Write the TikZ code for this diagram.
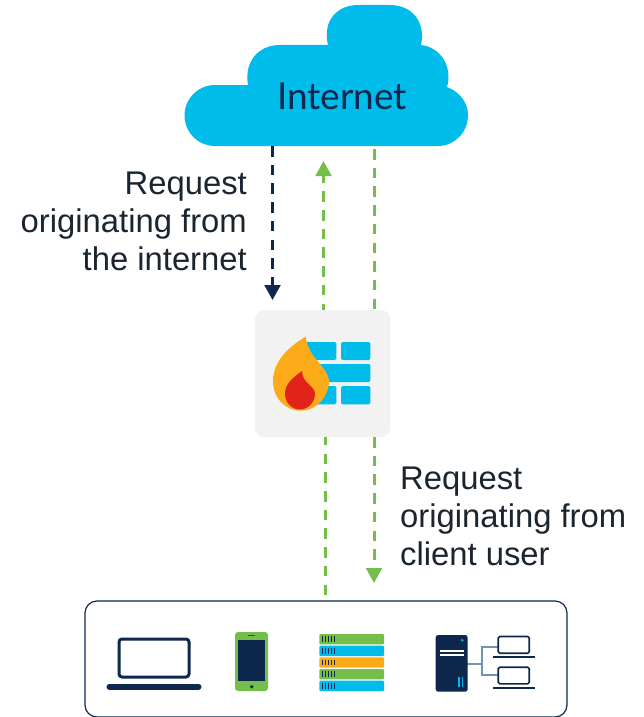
\documentclass[tikz,border=0pt]{standalone}
\usepackage{fontspec}
\setmainfont{Liberation Sans}
\newfontfamily\cloudfont{Lato}
\usetikzlibrary{arrows.meta}
\definecolor{navy}{HTML}{0D274D}
\definecolor{ink}{HTML}{1B2530}
\definecolor{sky}{HTML}{00BCEB}
\definecolor{leaf}{HTML}{74BF4B}
\definecolor{amber}{HTML}{FBAB18}
\definecolor{flame}{HTML}{E2231A}
\definecolor{steel}{HTML}{6F93BC}
\newcommand{\rackrow}[2]{%
    \fill[#1, rounded corners=1pt] (319.3, #2) rectangle (384, #2+10.3);
    \foreach \tx in {322.5, 325.5, 328.5, 331.5, 334.5}
        \draw[navy, line width=1.1pt] (\tx, #2+2.3) -- (\tx, #2+8);
}
\begin{document}
\begin{tikzpicture}
    \tikzset{x=1pt, y=-1pt, >={Triangle[length=15pt, width=15.7pt]}}
    \tikzstyle{label}=[font=\fontsize{32.8}{38}\selectfont, text=ink, inner sep=0pt]
    \tikzstyle{wall}=[rectangle, fill=black!5, rounded corners=9pt, minimum width=135pt, minimum height=127pt, inner sep=0pt]
    \tikzstyle{group}=[rectangle, draw=navy, fill=white, line width=1.2pt, rounded corners=12pt, minimum width=482pt, minimum height=116pt, inner sep=0pt]
    \tikzstyle{flow}=[leaf, line width=3pt, dash pattern=on 10.5pt off 8.2pt]
    \tikzstyle{brick}=[sky, rounded corners=1.5pt]
    \tikzstyle{dev}=[navy, line width=3pt, rounded corners=3pt]

    \useasboundingbox (0, 0) rectangle (644, 717);

    % cloud
    \fill[sky] (215, 146) arc (90:270:30.5) -- (248, 85)
        .. controls (244, 62) and (258, 45) .. (280, 45) -- (328, 45)
        .. controls (322, 20) and (338, 5) .. (358, 5) -- (390, 5)
        .. controls (412, 5) and (426, 22) .. (421, 45)
        .. controls (440, 47) and (453, 66) .. (447, 87)
        .. controls (460, 92) and (468, 103) .. (468, 115)
        .. controls (468, 133) and (454, 146) .. (438, 146) -- cycle;

    \draw (342.0, 96.0)  node[label, text=navy, font=\cloudfont\fontsize{37}{44}\selectfont] (inet) {Internet};
    \draw (322.5, 373.5) node[wall]   (fw)      {};
    \draw (326.0, 659.0) node[group]  (clients) {};
    \draw (247.0, 221.0) node[label, align=right, anchor=east] (reqin)  {Request\\originating from\\the internet};
    \draw (400.0, 516.5) node[label, align=left, anchor=west] (reqout) {Request\\originating from\\client user};

    \coordinate (in0)   at (272.5, 146);
    \coordinate (in1)   at (272.5, 300);
    \coordinate (up0)   at (323.5, 310);
    \coordinate (up1)   at (323.5, 161);
    \coordinate (ret0)  at (374, 149);
    \coordinate (ret1)  at (374, 310);
    \coordinate (cli0)  at (325.5, 595);
    \coordinate (cli1)  at (325.5, 437);
    \coordinate (out0)  at (374, 437);
    \coordinate (out1)  at (374, 583);

    \draw [->, navy, line width=3pt, dash pattern=on 10.5pt off 8.2pt] (in0) -- (in1);
    \draw [->, flow, dash phase=4pt] (up0)  -- (up1);
    \draw [flow]        (ret0) -- (ret1);
    \draw [flow]        (cli0) -- (cli1);
    \draw [->, flow]    (out0) -- (out1);

    % firewall
    \fill[brick] (300, 342) rectangle (336.3, 360);
    \fill[brick] (341, 342) rectangle (370.3, 360);
    \fill[brick] (300, 364) rectangle (370.3, 382);
    \fill[brick] (300, 386) rectangle (336.3, 404.3);
    \fill[brick] (341, 386) rectangle (370.3, 404.3);
    \fill[amber] (305.7, 336.7)
        .. controls (288, 347) and (273, 362) .. (273, 381)
        .. controls (273, 398) and (285, 410.7) .. (301, 410.7)
        .. controls (317, 410.7) and (329, 396) .. (329, 381)
        .. controls (329, 368) and (308, 358) .. (305.7, 336.7) -- cycle;
    \fill[flame] (302, 371)
        .. controls (294, 377) and (285, 383) .. (285, 394)
        .. controls (285, 403) and (292, 409.5) .. (300, 409.5)
        .. controls (308, 409.5) and (315, 402) .. (315, 394)
        .. controls (315, 386) and (302, 383) .. (302, 371) -- cycle;

    % laptop
    \draw[dev] (119, 639) rectangle (189, 677);
    \draw[navy, line width=6pt, line cap=round] (109.5, 686.7) -- (198.5, 686.7);

    % phone
    \fill[leaf, rounded corners=3pt] (235, 632) rectangle (268, 691);
    \fill[navy] (238, 640) rectangle (265, 681);
    \fill[navy] (251.7, 686.7) circle (1.9);
    \draw[navy!70!leaf, line width=0.7pt] (248.3, 635.3) -- (255, 635.3);

    % rack
    \rackrow{leaf}{634}
    \rackrow{sky}{645.7}
    \rackrow{amber}{657.3}
    \rackrow{leaf}{669}
    \rackrow{sky}{680.7}

    % server and terminals
    \draw[steel, line width=2pt] (467, 664) -- (482.3, 664);
    \draw[steel, line width=2pt] (497.7, 646.7) -- (482.3, 646.7) -- (482.3, 675.3) -- (497.7, 675.3);
    \fill[navy, rounded corners=2.5pt] (435.7, 635) rectangle (467.7, 691.7);
    \fill[sky] (462.3, 640.3) circle (1.4);
    \draw[white, line width=2pt] (440, 650.7) -- (464, 650.7);
    \draw[white, line width=2pt] (440, 655.3) -- (464, 655.3);
    \draw[sky, line width=1.5pt] (459, 676.7) -- (459, 687);
    \draw[sky, line width=1.5pt] (462.7, 676.7) -- (462.7, 687);
    \draw[navy, line width=1.6pt, rounded corners=1.5pt, fill=white] (498.2, 636.5) rectangle (529.2, 653.2);
    \draw[navy, line width=1.6pt, rounded corners=1.5pt, fill=white] (498.2, 667.2) rectangle (529.2, 683.8);
    \draw[navy, line width=2.2pt] (493, 657.3) -- (534.7, 657.3);
    \draw[navy, line width=2.2pt] (493, 688) -- (534.7, 688);
\end{tikzpicture}
\end{document}
